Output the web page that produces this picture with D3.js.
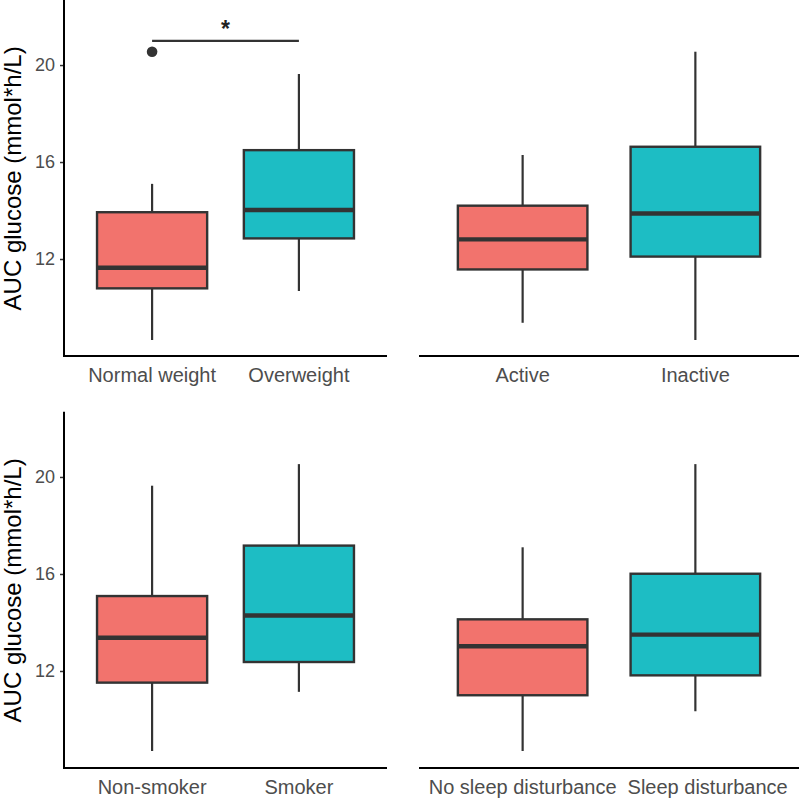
<!DOCTYPE html>
<html>
<head>
<meta charset="utf-8">
<script src="https://cdn.jsdelivr.net/npm/d3@7"></script>
<style>
  html, body { margin: 0; padding: 0; background: #ffffff; }
  svg { display: block; }
</style>
</head>
<body>
<div id="chart"></div>
<script>
// ---------- data ----------
const panelCategories = [
  ["Normal weight", "Overweight"],
  ["Active", "Inactive"],
  ["Non-smoker", "Smoker"],
  ["No sleep disturbance", "Sleep disturbance"]
];
// one entry per box, in panel order (2 boxes per panel)
const whiskerLow  = [8.66, 10.68, 9.37, 8.66, 8.70, 11.14, 8.70, 10.34];
const quartile1   = [10.79, 12.85, 11.57, 12.10, 11.52, 12.37, 11.00, 11.82];
const medians     = [11.64, 14.02, 12.81, 13.88, 13.37, 14.29, 13.02, 13.50];
const quartile3   = [13.93, 16.49, 14.20, 16.63, 15.09, 17.17, 14.13, 16.01];
const whiskerHigh = [15.10, 19.63, 16.29, 20.55, 19.64, 20.53, 17.10, 20.53];
const outlierPanel = [0];
const outlierGroup = ["Normal weight"];
const outlierValue = [20.55];
const sigPanel = [0];
const sigFrom = ["Normal weight"];
const sigTo = ["Overweight"];
const sigValue = [21.0];
const sigLabel = ["*"];
const yTicks = [12, 16, 20];
const yDomain = [8, 22.65];
const yTitle = "AUC glucose (mmol*h/L)";
const groupColors = ["#F2736D", "#1DBDC4"];

// ---------- layout ----------
const W = 800, H = 798;
const svg = d3.select("#chart").append("svg").attr("width", W).attr("height", H)
  .style("font-family", "'Liberation Sans', Arial, sans-serif");

const panels = [
  { x0: 64,  x1: 387, yTop: 0.8,   yBot: 356, yAxis: true },
  { x0: 419, x1: 799, yTop: 0.8,   yBot: 356, yAxis: false },
  { x0: 64,  x1: 387, yTop: 412.7, yBot: 768, yAxis: true },
  { x0: 419, x1: 799, yTop: 412.7, yBot: 768, yAxis: false }
];

const strokeCol = "#333333";

panels.forEach((p, pi) => {
  const cats = panelCategories[pi];
  const y = d3.scaleLinear().domain(yDomain).range([p.yBot, p.yTop]);
  const xPos = d3.scaleLinear().domain([0.4, 2.6]).range([p.x0, p.x1]);
  const x = c => xPos(cats.indexOf(c) + 1);
  const unit = xPos(1) - xPos(0);
  const boxW = 0.75 * unit;
  const g = svg.append("g");

  // boxes
  cats.forEach((c, ci) => {
    const i = pi * 2 + ci;
    const cx = x(c);
    g.append("line").attr("x1", cx).attr("x2", cx)
      .attr("y1", y(whiskerHigh[i])).attr("y2", y(quartile3[i]))
      .attr("stroke", strokeCol).attr("stroke-width", 2.2);
    g.append("line").attr("x1", cx).attr("x2", cx)
      .attr("y1", y(quartile1[i])).attr("y2", y(whiskerLow[i]))
      .attr("stroke", strokeCol).attr("stroke-width", 2.2);
    g.append("rect")
      .attr("x", cx - boxW / 2).attr("width", boxW)
      .attr("y", y(quartile3[i])).attr("height", y(quartile1[i]) - y(quartile3[i]))
      .attr("fill", groupColors[ci]).attr("stroke", strokeCol).attr("stroke-width", 2.4);
    g.append("line").attr("x1", cx - boxW / 2).attr("x2", cx + boxW / 2)
      .attr("y1", y(medians[i])).attr("y2", y(medians[i]))
      .attr("stroke", strokeCol).attr("stroke-width", 4.4);
  });

  // outliers
  outlierPanel.forEach((op, k) => {
    if (op !== pi) return;
    g.append("circle").attr("cx", x(outlierGroup[k])).attr("cy", y(outlierValue[k]))
      .attr("r", 5.3).attr("fill", strokeCol);
  });

  // significance
  sigPanel.forEach((sp, k) => {
    if (sp !== pi) return;
    const xa = x(sigFrom[k]), xb = x(sigTo[k]);
    g.append("line").attr("x1", xa).attr("x2", xb)
      .attr("y1", y(sigValue[k])).attr("y2", y(sigValue[k]))
      .attr("stroke", strokeCol).attr("stroke-width", 2.2);
    g.append("text").attr("x", (xa + xb) / 2).attr("y", y(sigValue[k]) - 4)
      .attr("text-anchor", "middle").attr("font-size", 23).attr("font-weight", "bold")
      .attr("fill", "#222")
      .text(sigLabel[k]);
  });

  // x axis
  g.append("line").attr("x1", p.x0).attr("x2", p.x1)
    .attr("y1", p.yBot).attr("y2", p.yBot)
    .attr("stroke", "#000").attr("stroke-width", 2);
  const labels = cats.map(c => g.append("text").attr("x", x(c)).attr("y", p.yBot + 26)
      .attr("text-anchor", "middle").attr("font-size", 20).attr("fill", "#4D4D4D")
      .text(c));
  // nudge the second label right if the two labels would touch
  const w0 = labels[0].node().getComputedTextLength();
  const w1 = labels[1].node().getComputedTextLength();
  const end0 = x(cats[0]) + w0 / 2;
  const start1 = x(cats[1]) - w1 / 2;
  const minGap = 11;
  if (start1 - end0 < minGap) {
    labels[1].attr("x", x(cats[1]) + (minGap - (start1 - end0)));
  }

  // y axis
  if (p.yAxis) {
    const ax = g.append("g").attr("transform", `translate(${p.x0},0)`)
      .call(d3.axisLeft(y).tickValues(yTicks).tickSize(4).tickPadding(5).tickFormat(d3.format("d")));
    ax.select(".domain").remove();
    ax.selectAll(".tick line").attr("stroke", "#333").attr("stroke-width", 1.5);
    ax.selectAll(".tick text").attr("font-size", 18).attr("fill", "#4D4D4D")
      .attr("font-family", "'Liberation Sans', Arial, sans-serif");
    g.append("line").attr("x1", p.x0).attr("x2", p.x0)
      .attr("y1", p.yTop - 1).attr("y2", p.yBot + 1)
      .attr("stroke", "#000").attr("stroke-width", 2);
    g.append("text")
      .attr("transform", `translate(21,${(p.yTop + p.yBot) / 2}) rotate(-90)`)
      .attr("text-anchor", "middle").attr("font-size", 24).attr("fill", "#000")
      .text(yTitle);
  }
});
</script>
</body>
</html>
